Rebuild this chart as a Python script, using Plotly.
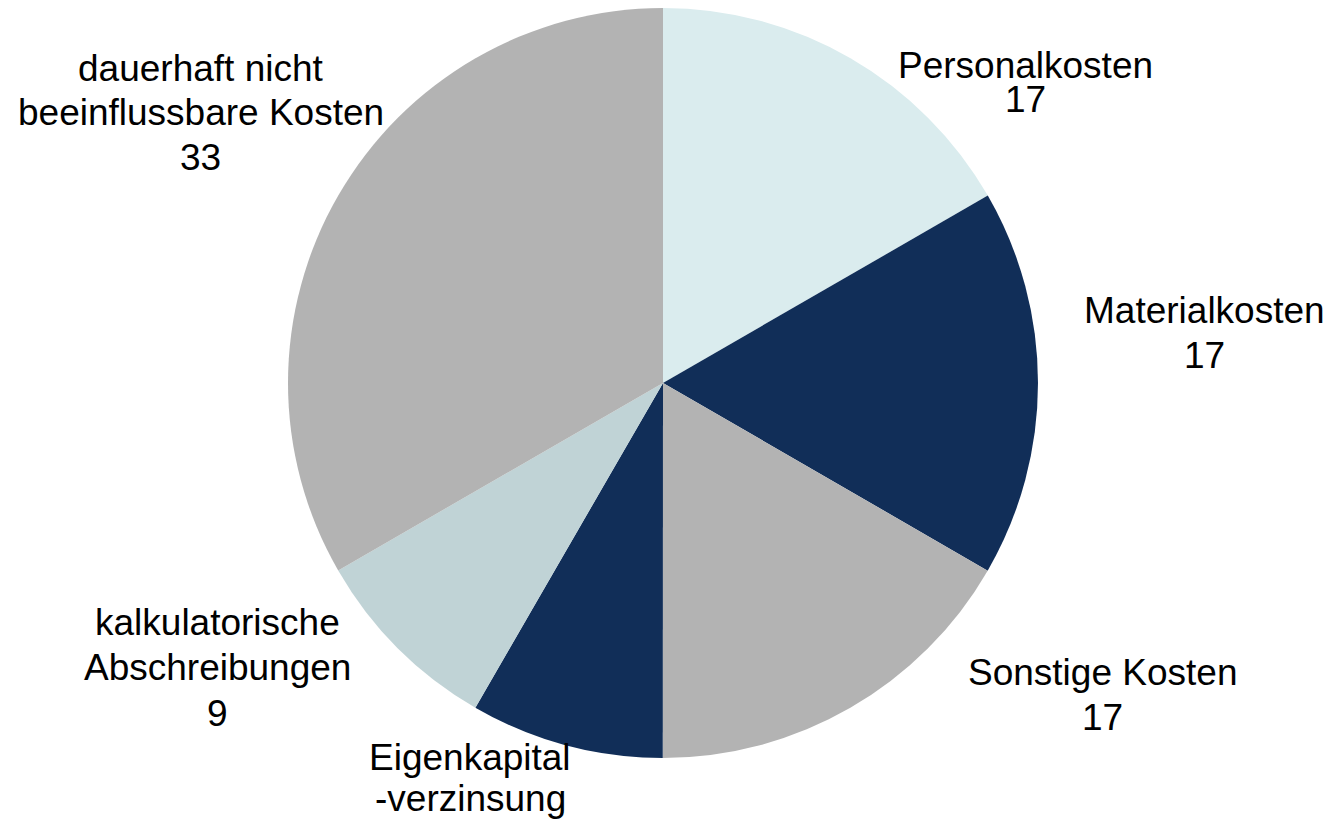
import plotly.graph_objects as go

labels = ["Personalkosten", "Materialkosten", "Sonstige Kosten",
          "Eigenkapital<br>-verzinsung", "kalkulatorische<br>Abschreibungen",
          "dauerhaft nicht<br>beeinflussbare Kosten"]
# slice shares as measured from the slice angles (percent)
shares = [16.67, 16.67, 16.67, 8.33, 8.33, 33.33]
# values printed in the labels
label_values = [17, 17, 17, 9, 9, 33]
colors = ["#DAECEE", "#112E58", "#B3B3B3", "#112E58", "#C0D3D6", "#B3B3B3"]

# label layout: x center and y of each line's cap centre (pixels)
label_x = [1024, 1203, 1101, 469, 216, 200]
label_y = [[65, 99], [310, 355], [672, 717], [757, 798, 842], [622, 667, 713], [68, 112, 157]]

W, H = 1331, 825
cx, cy, r = 655, 375, 375

fig = go.Figure(go.Pie(
    labels=labels, values=shares, sort=False, direction="clockwise", rotation=0,
    marker=dict(colors=colors, line=dict(width=0)),
    textinfo="none", hoverinfo="label",
    domain=dict(x=[(cx - r) / W, (cx + r) / W], y=[(H - cy - r) / H, (H - cy + r) / H]),
))

font = dict(family="Liberation Sans, Arial, sans-serif", size=37, color="black")
for lab, val, px, ys in zip(labels, label_values, label_x, label_y):
    lines = lab.split("<br>") + [str(val)]
    for line, py in zip(lines, ys):
        if py > H:
            continue
        fig.add_annotation(
            x=(px - 7) / W, y=1 - (py - 8) / H, xref="paper", yref="paper",
            text=line, showarrow=False, align="center",
            xanchor="center", yanchor="middle", font=font,
        )

fig.update_layout(
    width=W, height=H, margin=dict(l=0, r=0, t=0, b=0),
    showlegend=False, paper_bgcolor="white", plot_bgcolor="white",
)
fig.write_html("out.html")
